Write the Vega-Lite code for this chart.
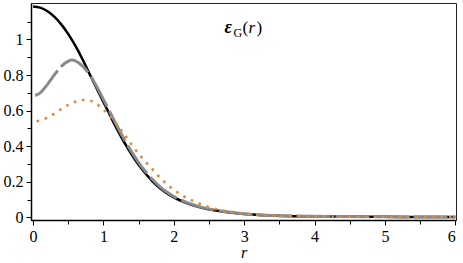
{
  "$schema": "https://vega.github.io/schema/vega-lite/v6.json",
  "width": 425,
  "height": 217,
  "autosize": {"type": "none"},
  "padding": {"left": 31, "top": 3, "right": 7, "bottom": 43},
  "background": "white",
  "config": {
    "view": {"stroke": "#222", "strokeWidth": 1},
    "font": "Liberation Serif",
    "style": {
      "guide-label": {"font": "Liberation Serif", "fontSize": 16, "fill": "black"},
      "guide-title": {"font": "Liberation Serif", "fontSize": 16, "fill": "black"}
    },
    "axis": {"grid": false, "labelFont": "Liberation Serif", "labelFontSize": 16, "labelColor": "black", "titleFont": "Liberation Serif", "titleFontSize": 16, "titleColor": "black", "domainColor": "black", "tickColor": "black", "domainWidth": 1.5, "tickWidth": 1}
  },
  "resolve": {"axis": {"x": "independent", "y": "independent"}},
  "datasets": {
    "curves": [
      {"s": "black", "r": 0, "v": 1.185},
      {"s": "black", "r": 0.1, "v": 1.179},
      {"s": "black", "r": 0.2, "v": 1.16},
      {"s": "black", "r": 0.3, "v": 1.128},
      {"s": "black", "r": 0.4, "v": 1.085},
      {"s": "black", "r": 0.5, "v": 1.03},
      {"s": "black", "r": 0.6, "v": 0.965},
      {"s": "black", "r": 0.7, "v": 0.89},
      {"s": "black", "r": 0.8, "v": 0.808},
      {"s": "black", "r": 0.9, "v": 0.728},
      {"s": "black", "r": 1.0, "v": 0.648},
      {"s": "black", "r": 1.1, "v": 0.568},
      {"s": "black", "r": 1.2, "v": 0.49},
      {"s": "black", "r": 1.3, "v": 0.418},
      {"s": "black", "r": 1.4, "v": 0.353},
      {"s": "black", "r": 1.5, "v": 0.295},
      {"s": "black", "r": 1.6, "v": 0.245},
      {"s": "black", "r": 1.7, "v": 0.201},
      {"s": "black", "r": 1.8, "v": 0.165},
      {"s": "black", "r": 1.9, "v": 0.136},
      {"s": "black", "r": 2.0, "v": 0.112},
      {"s": "black", "r": 2.2, "v": 0.078},
      {"s": "black", "r": 2.4, "v": 0.054},
      {"s": "black", "r": 2.6, "v": 0.038},
      {"s": "black", "r": 2.8, "v": 0.027},
      {"s": "black", "r": 3.0, "v": 0.019},
      {"s": "black", "r": 3.3, "v": 0.012},
      {"s": "black", "r": 3.6, "v": 0.008},
      {"s": "black", "r": 4.0, "v": 0.006},
      {"s": "black", "r": 4.5, "v": 0.004},
      {"s": "black", "r": 5.0, "v": 0.003},
      {"s": "black", "r": 5.5, "v": 0.002},
      {"s": "black", "r": 6.0, "v": 0.002},
      {"s": "gray", "r": 0.03, "v": 0.685},
      {"s": "gray", "r": 0.1, "v": 0.7},
      {"s": "gray", "r": 0.2, "v": 0.745},
      {"s": "gray", "r": 0.3, "v": 0.8},
      {"s": "gray", "r": 0.4, "v": 0.848},
      {"s": "gray", "r": 0.5, "v": 0.878},
      {"s": "gray", "r": 0.55, "v": 0.884},
      {"s": "gray", "r": 0.6, "v": 0.88},
      {"s": "gray", "r": 0.7, "v": 0.852},
      {"s": "gray", "r": 0.8, "v": 0.805},
      {"s": "gray", "r": 0.9, "v": 0.738},
      {"s": "gray", "r": 1.0, "v": 0.662},
      {"s": "gray", "r": 1.1, "v": 0.585},
      {"s": "gray", "r": 1.2, "v": 0.508},
      {"s": "gray", "r": 1.3, "v": 0.435},
      {"s": "gray", "r": 1.4, "v": 0.368},
      {"s": "gray", "r": 1.5, "v": 0.308},
      {"s": "gray", "r": 1.6, "v": 0.256},
      {"s": "gray", "r": 1.7, "v": 0.211},
      {"s": "gray", "r": 1.8, "v": 0.173},
      {"s": "gray", "r": 1.9, "v": 0.142},
      {"s": "gray", "r": 2.0, "v": 0.117},
      {"s": "gray", "r": 2.2, "v": 0.081},
      {"s": "gray", "r": 2.4, "v": 0.056},
      {"s": "gray", "r": 2.6, "v": 0.039},
      {"s": "gray", "r": 2.8, "v": 0.028},
      {"s": "gray", "r": 3.0, "v": 0.02},
      {"s": "gray", "r": 3.3, "v": 0.012},
      {"s": "gray", "r": 3.6, "v": 0.008},
      {"s": "gray", "r": 4.0, "v": 0.006},
      {"s": "gray", "r": 4.5, "v": 0.004},
      {"s": "gray", "r": 5.0, "v": 0.003},
      {"s": "gray", "r": 5.5, "v": 0.002},
      {"s": "gray", "r": 6.0, "v": 0.002},
      {"s": "orange", "r": 0.05, "v": 0.54},
      {"s": "orange", "r": 0.1, "v": 0.545},
      {"s": "orange", "r": 0.2, "v": 0.56},
      {"s": "orange", "r": 0.3, "v": 0.583},
      {"s": "orange", "r": 0.4, "v": 0.608},
      {"s": "orange", "r": 0.5, "v": 0.632},
      {"s": "orange", "r": 0.6, "v": 0.65},
      {"s": "orange", "r": 0.7, "v": 0.66},
      {"s": "orange", "r": 0.8, "v": 0.657},
      {"s": "orange", "r": 0.9, "v": 0.638},
      {"s": "orange", "r": 1.0, "v": 0.605},
      {"s": "orange", "r": 1.1, "v": 0.565},
      {"s": "orange", "r": 1.2, "v": 0.517},
      {"s": "orange", "r": 1.3, "v": 0.464},
      {"s": "orange", "r": 1.4, "v": 0.41},
      {"s": "orange", "r": 1.5, "v": 0.357},
      {"s": "orange", "r": 1.6, "v": 0.311},
      {"s": "orange", "r": 1.7, "v": 0.268},
      {"s": "orange", "r": 1.8, "v": 0.224},
      {"s": "orange", "r": 1.9, "v": 0.187},
      {"s": "orange", "r": 2.0, "v": 0.155},
      {"s": "orange", "r": 2.1, "v": 0.128},
      {"s": "orange", "r": 2.2, "v": 0.106},
      {"s": "orange", "r": 2.3, "v": 0.088},
      {"s": "orange", "r": 2.4, "v": 0.071},
      {"s": "orange", "r": 2.5, "v": 0.057},
      {"s": "orange", "r": 2.6, "v": 0.046},
      {"s": "orange", "r": 2.7, "v": 0.038},
      {"s": "orange", "r": 2.8, "v": 0.032},
      {"s": "orange", "r": 2.9, "v": 0.026},
      {"s": "orange", "r": 3.0, "v": 0.021},
      {"s": "orange", "r": 3.2, "v": 0.015},
      {"s": "orange", "r": 3.5, "v": 0.01},
      {"s": "orange", "r": 4.0, "v": 0.006},
      {"s": "orange", "r": 4.5, "v": 0.004},
      {"s": "orange", "r": 5.0, "v": 0.003},
      {"s": "orange", "r": 5.5, "v": 0.002},
      {"s": "orange", "r": 6.0, "v": 0.002}
    ]
  },
  "layer": [
    {
      "data": {"name": "curves"},
      "transform": [{"filter": "datum.s == 'black'"}],
      "mark": {"type": "line", "color": "black", "strokeWidth": 2.5, "interpolate": "monotone"},
      "encoding": {
        "x": {"field": "r", "type": "quantitative", "scale": {"domain": [-0.03, 6.01], "nice": false, "zero": false},
          "axis": {"orient": "bottom", "values": [0, 1, 2, 3, 4, 5, 6], "format": "d", "tickSize": 5, "labelPadding": 3, "labelFont": "Liberation Serif", "labelFontSize": 16, "title": "r", "titleFont": "Liberation Serif", "titleFontStyle": "italic", "titleFontWeight": "normal", "titlePadding": 0}},
        "y": {"field": "v", "type": "quantitative", "scale": {"domain": [-0.015, 1.205], "nice": false, "zero": false},
          "axis": {"orient": "left", "values": [0, 0.2, 0.4, 0.6, 0.8, 1], "format": "~g", "tickSize": 5, "labelPadding": 3, "labelFont": "Liberation Serif", "labelFontSize": 16, "title": null}}
      }
    },
    {
      "data": {"name": "curves"},
      "transform": [{"filter": "datum.s == 'gray'"}],
      "mark": {"type": "line", "color": "#8a8a8a", "strokeWidth": 3, "strokeDash": [34, 5], "interpolate": "monotone"},
      "encoding": {
        "x": {"field": "r", "type": "quantitative",
          "axis": {"orient": "bottom", "values": [0.5, 1.5, 2.5, 3.5, 4.5, 5.5], "labels": false, "domain": false, "tickSize": 4, "title": null}},
        "y": {"field": "v", "type": "quantitative",
          "axis": {"orient": "left", "values": [0.1, 0.3, 0.5, 0.7, 0.9, 1.1], "labels": false, "domain": false, "tickSize": 4, "title": null}}
      }
    },
    {
      "data": {"name": "curves"},
      "transform": [{"filter": "datum.s == 'orange'"}],
      "mark": {"type": "line", "color": "#dc8a3c", "strokeWidth": 2.6, "strokeDash": [2.6, 5.8], "interpolate": "monotone"},
      "encoding": {
        "x": {"field": "r", "type": "quantitative", "axis": null},
        "y": {"field": "v", "type": "quantitative", "axis": null}
      }
    },
    {
      "data": {"values": [{}]},
      "mark": {"type": "text", "text": "ε", "font": "Liberation Serif", "fontSize": 18, "fontStyle": "italic", "fontWeight": "bold", "align": "left", "baseline": "alphabetic"},
      "encoding": {"x": {"datum": 2.72, "axis": null}, "y": {"datum": 1.037, "axis": null}}
    },
    {
      "data": {"values": [{}]},
      "mark": {"type": "text", "text": "G", "font": "Liberation Serif", "fontSize": 12, "align": "left", "baseline": "alphabetic", "dx": 9, "dy": 4},
      "encoding": {"x": {"datum": 2.72, "axis": null}, "y": {"datum": 1.037, "axis": null}}
    },
    {
      "data": {"values": [{}]},
      "mark": {"type": "text", "text": "(", "font": "Liberation Serif", "fontSize": 17, "align": "left", "baseline": "alphabetic", "dx": 18},
      "encoding": {"x": {"datum": 2.72, "axis": null}, "y": {"datum": 1.037, "axis": null}}
    },
    {
      "data": {"values": [{}]},
      "mark": {"type": "text", "text": "r", "font": "Liberation Serif", "fontSize": 17, "fontStyle": "italic", "align": "left", "baseline": "alphabetic", "dx": 24},
      "encoding": {"x": {"datum": 2.72, "axis": null}, "y": {"datum": 1.037, "axis": null}}
    },
    {
      "data": {"values": [{}]},
      "mark": {"type": "text", "text": ")", "font": "Liberation Serif", "fontSize": 17, "align": "left", "baseline": "alphabetic", "dx": 32},
      "encoding": {"x": {"datum": 2.72, "axis": null}, "y": {"datum": 1.037, "axis": null}}
    }
  ]
}
